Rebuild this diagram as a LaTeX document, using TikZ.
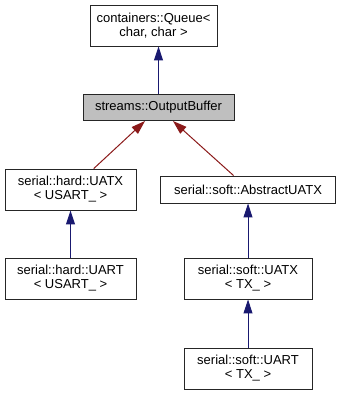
\documentclass[tikz,border=0pt]{standalone}
\usepackage{fontspec}
\setmainfont{Liberation Sans}
\usetikzlibrary{arrows.meta}

\definecolor{inhblue}{HTML}{191970}
\definecolor{inhred}{HTML}{8B1A1A}
\definecolor{basegray}{HTML}{BFBFBF}

\tikzset{
  classbox/.style={rectangle, draw=black!85, fill=white, line width=0.9pt,
                   inner sep=0pt, align=center, minimum height=41pt,
                   font=\fontsize{13}{14}\selectfont},
  pubinh/.style={draw=inhblue, line width=1pt,
                 -{Triangle[length=14pt,width=9pt]}},
  protinh/.style={draw=inhred, line width=1pt,
                  -{Triangle[length=14pt,width=9pt]}}
}

\begin{document}
\begin{tikzpicture}[x=1pt, y=-1pt]
      \useasboundingbox (0,0) rectangle (341,395);
      \node[classbox, minimum width=127pt] (queue)
            at (153.5,25.5){containers::Queue<\\char, char >};
      \node[classbox, fill=basegray, minimum width=151pt, minimum height=26pt] (outbuf)
            at (158.5,107.5){streams::OutputBuffer};
      \node[classbox, minimum width=131pt] (huatx)
            at (70.5,189.5){serial::hard::UATX\\< USART\_ >};
      \node[classbox, minimum width=131pt] (huart)
            at (70.5,278.5){serial::hard::UART\\< USART\_ >};
      \node[classbox, minimum width=175pt, minimum height=27pt] (absuatx)
            at (248,189.5){serial::soft::AbstractUATX};
      \node[classbox, minimum width=128pt] (suatx)
            at (248,278.5){serial::soft::UATX\\< TX\_ >};
      \node[classbox, minimum width=128pt] (suart)
            at (248,368.5){serial::soft::UART\\< TX\_ >};

      \draw[pubinh] (outbuf.north) -- (outbuf.north |- queue.south);
      \draw[protinh] (huatx.42.9) -- (outbuf.225);
      \draw[protinh] (absuatx.136) -- (outbuf.317);
      \draw[pubinh] (huart) -- (huatx);
      \draw[pubinh] (suatx) -- (absuatx);
      \draw[pubinh] (suart) -- (suatx);
    \end{tikzpicture}
\end{document}
